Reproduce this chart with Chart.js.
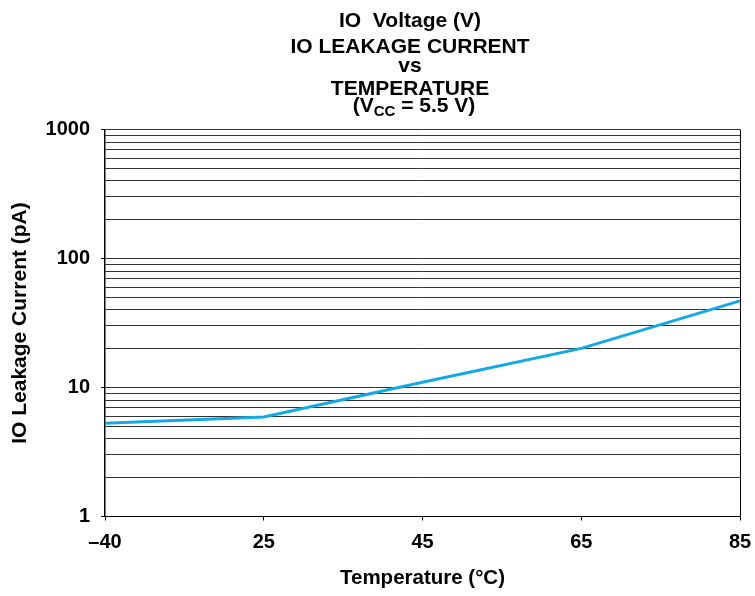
<!DOCTYPE html>
<html><head><meta charset="utf-8">
<script src="https://cdn.jsdelivr.net/npm/chart.js@4.4.1/dist/chart.umd.min.js"></script>
<style>html,body{margin:0;padding:0;background:#fff}</style>
</head><body>
<canvas id="c" width="755" height="596"></canvas>
<script>
const temperatures = ['–40', '25', '45', '65', '85'];
const leakagePA = [5.28, 5.9, 11.0, 20.1, 46.9];
const yMajorTicks = [1, 10, 100, 1000];
const yMajorLabels = ['1', '10', '100', '1000'];
const yMinorSteps = [2, 3, 4, 5, 6, 7, 8, 9];
const titleLines = ['IO  Voltage (V)', 'IO LEAKAGE CURRENT', 'vs', 'TEMPERATURE'];
const xAxisTitle = 'Temperature (°C)';
const yAxisTitle = 'IO Leakage Current (pA)';

const gridValues = [];
yMajorTicks.forEach((m, i) => {
  gridValues.push(m);
  if (i < yMajorTicks.length - 1) yMinorSteps.forEach(s => gridValues.push(m * s));
});

const FONT = '"Liberation Sans", Arial, Helvetica, sans-serif';
Chart.defaults.font.family = FONT;
Chart.defaults.color = '#000';

const titlePlugin = {
  id: 'stackedTitle',
  afterDraw(chart) {
    const ctx = chart.ctx;
    ctx.save();
    ctx.fillStyle = '#000';
    ctx.textAlign = 'center';
    ctx.textBaseline = 'alphabetic';
    ctx.font = 'bold 21px ' + FONT;
    const cx = 410;
    const baselines = [27, 53, 72, 95];
    titleLines.forEach((t, i) => ctx.fillText(t, cx, baselines[i]));
    const partA = '(V', sub = 'CC', partB = ' = 5.5 V)';
    const big = 'bold 21px ' + FONT, small = 'bold 15px ' + FONT;
    ctx.font = big;
    const wA = ctx.measureText(partA).width, wB = ctx.measureText(partB).width;
    ctx.font = small;
    const wS = ctx.measureText(sub).width;
    let x = cx + 4 - (wA + wS + wB) / 2;
    ctx.textAlign = 'left';
    ctx.font = big; ctx.fillText(partA, x, 112); x += wA;
    ctx.font = small; ctx.fillText(sub, x, 116); x += wS;
    ctx.font = big; ctx.fillText(partB, x, 112);
    ctx.restore();
  }
};

new Chart(document.getElementById('c'), {
  type: 'line',
  data: {
    labels: temperatures,
    datasets: [{
      data: leakagePA,
      borderColor: '#14A9E6',
      borderWidth: 3,
      pointRadius: 0,
      tension: 0,
      fill: false
    }]
  },
  options: {
    responsive: false,
    animation: false,
    layout: { padding: { top: 129.5, right: 15, left: 0, bottom: 0 } },
    plugins: { legend: { display: false }, title: { display: false }, tooltip: { enabled: false } },
    scales: {
      x: {
        type: 'category',
        offset: false,
        grid: {
          drawOnChartArea: true,
          color: c => c.index === temperatures.length - 1 ? '#000' : 'rgba(0,0,0,0)',
          lineWidth: 1,
          tickLength: 4,
          tickColor: '#000'
        },
        border: { display: true, color: '#000', width: 1 },
        ticks: { font: { size: 20, weight: 'bold' }, padding: 10, maxRotation: 0, autoSkip: false },
        title: { display: true, text: xAxisTitle, font: { size: 20.5, weight: 'bold' }, padding: { top: 0, bottom: 5 } },
        afterFit: s => { s.height = 79.5; s.paddingLeft = 0; s.paddingRight = 0; }
      },
      y: {
        type: 'logarithmic',
        min: 1,
        max: 1000,
        afterBuildTicks: s => { s.ticks = gridValues.map(v => ({ value: v, major: yMajorTicks.includes(v) })); },
        grid: {
          color: '#333',
          lineWidth: 1,
          tickLength: 4,
          tickColor: c => (c.tick && yMajorTicks.includes(c.tick.value)) ? '#000' : 'rgba(0,0,0,0)'
        },
        border: { display: true, color: '#000', width: 1.5 },
        ticks: {
          autoSkip: false,
          padding: 11,
          font: { size: 20, weight: 'bold' },
          callback: v => { const i = yMajorTicks.indexOf(v); return i >= 0 ? yMajorLabels[i] : ''; }
        },
        title: { display: true, text: yAxisTitle, font: { size: 21, weight: 'bold' }, padding: { top: 8, bottom: 0 } },
        afterFit: s => { s.width = 105; s.paddingTop = 0; s.paddingBottom = 0; }
      }
    }
  },
  plugins: [titlePlugin]
});
</script>
</body></html>
